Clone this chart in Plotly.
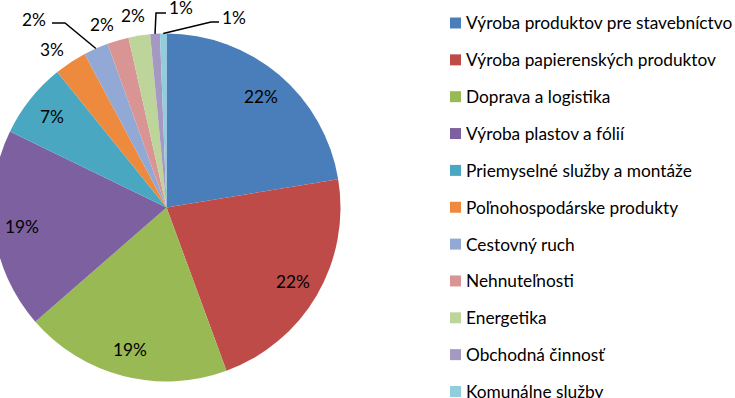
import math
import plotly.graph_objects as go

# ---------------- data ----------------
categories = [
    "Výroba produktov pre stavebníctvo",
    "Výroba papierenských produktov",
    "Doprava a logistika",
    "Výroba plastov a fólií",
    "Priemyselné služby a montáže",
    "Poľnohospodárske produkty",
    "Cestovný ruch",
    "Nehnuteľnosti",
    "Energetika",
    "Obchodná činnosť",
    "Komunálne služby",
]
values = [22.4, 22.0, 19.2, 18.6, 7.0, 3.0, 2.3, 2.0, 2.0, 0.9, 0.6]
colors = ["#4A7EBB", "#BE4B48", "#98B954", "#7D60A0", "#4AA7C2", "#EE8A3E",
          "#92A9D6", "#D99593", "#BDD49B", "#A598C3", "#92CDDC"]

# ---------------- layout constants (page pixels) ----------------
OFFX = 8                    # figure is shifted 8px left on the page (pie is clipped at the left)
W, H = 735 + OFFX, 398
CX, CY, R = 166.5, 207.5, 174.0
FONT = "Lato"
FS = 17.3


def px(x):
    return (x + OFFX) / W


def py(y):
    return 1 - y / H


fig = go.Figure()
fig.add_trace(go.Pie(
    labels=categories, values=values, sort=False, direction="clockwise",
    rotation=0, textinfo="none", showlegend=False, hoverinfo="label+percent",
    marker=dict(colors=colors, line=dict(width=0)),
    domain=dict(x=[px(CX - R), px(CX + R)], y=[py(CY + R), py(CY - R)]),
))

# slice mid-angles computed from values
total = sum(values)
mids = []
start = 90.0
for v in values:
    span = v / total * 360.0
    mids.append(start - span / 2)
    start -= span

annotations = []
shapes = []
# outside label positions (page px) and optional leader elbows
outside = {
    5: ((52, 49), None),
    6: ((34, 19), [(52, 23), (65, 23)]),
    7: ((102, 24), None),
    8: ((133, 16), None),
    9: ((181, 8), [(166, 13), (156, 13)]),
    10: ((234, 18), [(219, 22), (211, 22)]),
}
for i, (v, m) in enumerate(zip(values, mids)):
    txt = f"{round(v / total * 100)}%"
    a = math.radians(m)
    if i in outside:
        (lx, ly), leader = outside[i]
        if leader:
            ex = CX + R * math.cos(a)
            ey = CY - R * math.sin(a)
            pts = leader + [(ex, ey)]
            path = "M " + " L ".join(f"{px(x):.5f},{py(y):.5f}" for x, y in pts)
            shapes.append(dict(type="path", xref="paper", yref="paper", path=path,
                               line=dict(color="black", width=1.5)))
    else:
        rr = R * 0.84
        lx = CX + rr * math.cos(a)
        ly = CY - rr * math.sin(a)
    annotations.append(dict(x=px(lx), y=py(ly), xref="paper", yref="paper",
                            text=txt, showarrow=False, xanchor="center",
                            yanchor="middle",
                            font=dict(family=FONT, size=FS, color="black")))

# legend drawn manually
LEG_Y0, LEG_DY = 23.0, 36.85
for i, (c, col) in enumerate(zip(categories, colors)):
    yc = LEG_Y0 + i * LEG_DY
    shapes.append(dict(type="rect", xref="paper", yref="paper",
                       x0=px(450), x1=px(461), y0=py(yc + 5.5), y1=py(yc - 5.5),
                       fillcolor=col, line=dict(width=0)))
    annotations.append(dict(x=px(464), y=py(yc), xref="paper", yref="paper",
                            text=c, showarrow=False, xanchor="left",
                            yanchor="middle",
                            font=dict(family=FONT, size=FS, color="black")))

fig.update_layout(
    width=W, height=H,
    margin=dict(l=0, r=0, t=0, b=0),
    paper_bgcolor="white", plot_bgcolor="white",
    annotations=annotations, shapes=shapes,
    showlegend=False,
)

fig.write_html("out.html",
               config={"displayModeBar": False},
               post_script=f"document.body.style.margin='0px 0px 0px -{OFFX}px';")
